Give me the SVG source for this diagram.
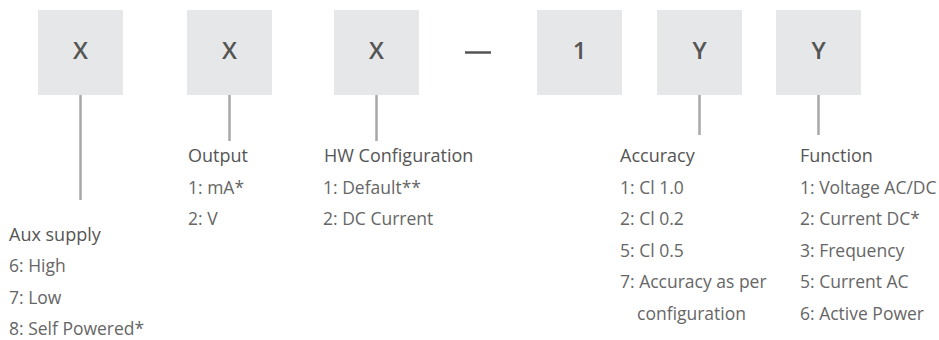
<svg xmlns="http://www.w3.org/2000/svg" width="939" height="340" viewBox="0 0 939 340">
<style>
.box{fill:#e6e7e8}
.code{font-family:"Open Sans","Liberation Sans",sans-serif;font-size:24px;font-weight:600;fill:#555;text-anchor:middle}
.conn{stroke:#a8a8a8;stroke-width:2.5;fill:none}
.title{font-family:"Open Sans","Liberation Sans",sans-serif;font-size:18px;fill:#555}
.item{font-family:"Open Sans","Liberation Sans",sans-serif;font-size:17.5px;fill:#666}
</style>
<rect width="939" height="340" fill="#fff"/>
<g id="connectors">
<line class="conn" x1="80.5" y1="95" x2="80.5" y2="200"/>
<line class="conn" x1="229.5" y1="95" x2="229.5" y2="141"/>
<line class="conn" x1="376.5" y1="95" x2="376.5" y2="141"/>
<line class="conn" x1="699.5" y1="95" x2="699.5" y2="135"/>
<line class="conn" x1="818.5" y1="95" x2="818.5" y2="135"/>
</g>
<g id="node-aux">
<rect class="box" x="38" y="10" width="85" height="85"/>
<text class="code" x="80.5" y="58.5">X</text>
<text class="title" x="9" y="240.5">Aux supply</text>
<text class="item" x="9" y="272">6: High</text>
<text class="item" x="9" y="303.5">7: Low</text>
<text class="item" x="9" y="335">8: Self Powered*</text>
</g>
<g id="node-output">
<rect class="box" x="187" y="10" width="85" height="85"/>
<text class="code" x="229.5" y="58.5">X</text>
<text class="title" x="188" y="162">Output</text>
<text class="item" x="188" y="193.5">1: mA*</text>
<text class="item" x="188" y="225">2: V</text>
</g>
<g id="node-hw">
<rect class="box" x="334" y="10" width="85" height="85"/>
<text class="code" x="376.5" y="58.5">X</text>
<text class="title" x="324" y="162">HW Configuration</text>
<text class="item" x="323" y="193.5">1: Default**</text>
<text class="item" x="323" y="225">2: DC Current</text>
</g>
<g id="dash">
<line x1="465" y1="52.5" x2="491" y2="52.5" stroke="#555" stroke-width="2.5"/>
</g>
<g id="node-one">
<rect class="box" x="537" y="10" width="85" height="85"/>
<text class="code" x="579.5" y="58.5">1</text>
</g>
<g id="node-accuracy">
<rect class="box" x="657" y="10" width="85" height="85"/>
<text class="code" x="699.5" y="58.5">Y</text>
<text class="title" x="620" y="162">Accuracy</text>
<text class="item" x="620" y="193.5">1: Cl 1.0</text>
<text class="item" x="620" y="225">2: Cl 0.2</text>
<text class="item" x="620" y="256.5">5: Cl 0.5</text>
<text class="item" x="620" y="288">7: Accuracy as per</text>
<text class="item" x="637" y="319.5">configuration</text>
</g>
<g id="node-function">
<rect class="box" x="776" y="10" width="85" height="85"/>
<text class="code" x="818.5" y="58.5">Y</text>
<text class="title" x="800" y="162">Function</text>
<text class="item" x="800" y="193.5">1: Voltage AC/DC</text>
<text class="item" x="800" y="225">2: Current DC*</text>
<text class="item" x="800" y="256.5">3: Frequency</text>
<text class="item" x="800" y="288">5: Current AC</text>
<text class="item" x="800" y="319.5">6: Active Power</text>
</g>
</svg>
